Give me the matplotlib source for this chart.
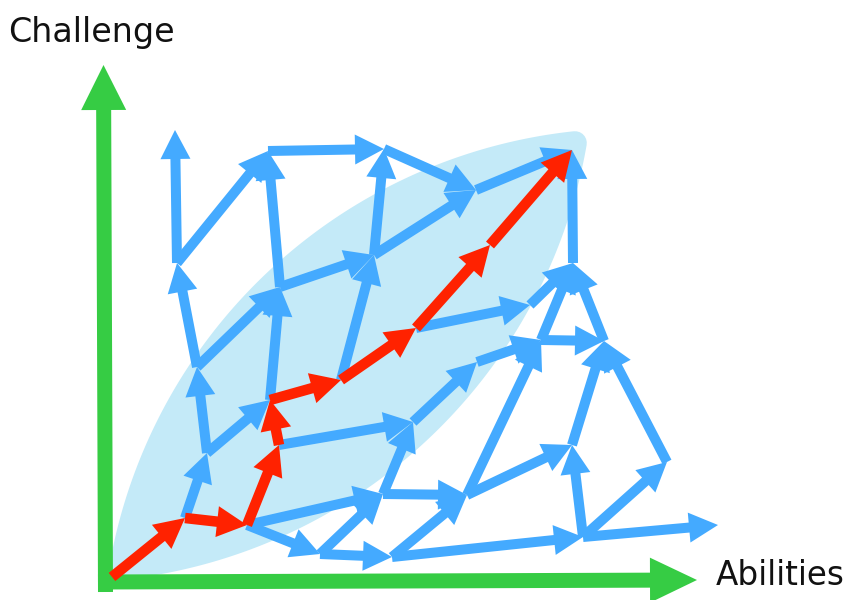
import matplotlib
matplotlib.use("Agg")
import numpy as np
import matplotlib.pyplot as plt
from matplotlib.patches import FancyArrowPatch, ArrowStyle, Polygon

# ---- data: node positions (image pixel space, y downward) ----
nodes = {
    "O": (112, 577), "R1": (185, 518), "R2": (247, 525), "R3": (279, 445),
    "R4": (270, 400), "R5": (341, 380), "R6": (416, 328), "R7": (490, 245),
    "R8": (572, 150),
    "A": (207, 453), "B": (197, 367), "C": (177, 263), "D": (175, 130),
    "E": (268, 151), "F": (280, 287), "G": (384, 149), "H": (374, 255),
    "I": (476, 190), "J": (413, 422), "K": (383, 494), "L": (320, 554),
    "M": (392, 557), "N": (467, 495), "P": (477, 362), "Q": (541, 340),
    "S": (530, 305), "T": (573, 263), "U": (604, 341), "V": (572, 445),
    "W": (583, 537), "X": (667, 462), "Y": (718, 525),
}

red_path = ["O", "R1", "R2", "R3", "R4", "R5", "R6", "R7", "R8"]

blue_edges = [
    ("C", "D"), ("C", "E"), ("F", "E"), ("E", "G"), ("G", "I"), ("H", "G"),
    ("F", "H"), ("H", "I"), ("R5", "H"), ("R4", "F"), ("B", "C"), ("B", "F"),
    ("A", "B"), ("R1", "A"), ("A", "R4"), ("R3", "J"), ("J", "P"), ("P", "Q"),
    ("N", "Q"), ("K", "J"), ("R2", "K"), ("R2", "L"), ("L", "K"), ("L", "M"),
    ("M", "N"), ("K", "N"), ("M", "W"), ("N", "V"), ("W", "V"), ("W", "X"),
    ("W", "Y"), ("X", "U"), ("V", "U"), ("Q", "U"), ("U", "T"), ("Q", "T"),
    ("R6", "S"), ("S", "T"), ("T", "R8"), ("I", "R8"),
]

axis_y = [(105.5, 592), (103.5, 65)]
axis_x = [(98, 582), (697, 580)]
x_label = "Abilities"
y_label = "Challenge"

# flow channel (lens between two ends, half width at middle)
channel_ends = [(121, 568), (575, 143)]
channel_half_width = 104

BLUE = "#44AAFF"
RED = "#FF2200"
GREEN = "#36CC44"
FLOW = "#C4EAF8"

fig = plt.figure(figsize=(8.46, 6), dpi=100)
ax = fig.add_axes([0, 0, 1, 1])
ax.set_xlim(0, 846)
ax.set_ylim(600, 0)
ax.axis("off")

# lens-shaped flow channel
p1 = np.array(channel_ends[0], float)
p2 = np.array(channel_ends[1], float)
mid = (p1 + p2) / 2
c = np.linalg.norm(p2 - p1) / 2
ex = (p2 - p1) / (2 * c)
ey = np.array([-ex[1], ex[0]])
h0 = channel_half_width
d = (c * c - h0 * h0) / (2 * h0)
R = h0 + d
u = np.linspace(-c, c, 200)
h = np.sqrt(np.maximum(R * R - u * u, 0)) - d
upper = mid + np.outer(u, ex) + np.outer(h, ey)
lower = mid + np.outer(u[::-1], ex) - np.outer(h[::-1], ey)
ax.add_patch(Polygon(np.vstack([upper, lower]), closed=True, facecolor=FLOW,
                     edgecolor=FLOW, lw=17, joinstyle="round", zorder=1))

px = 0.72  # pixels -> points at 100 dpi


def arrow(p, q, color, tw, hw, hl, z):
    st = ArrowStyle.Simple(head_length=hl * px, head_width=hw * px,
                           tail_width=tw * px)
    ax.add_patch(FancyArrowPatch(p, q, arrowstyle=st, mutation_scale=1,
                                 shrinkA=0, shrinkB=0, lw=0, color=color,
                                 zorder=z))


arrow(axis_y[0], axis_y[1], GREEN, 15, 45, 45, 2)
arrow(axis_x[0], axis_x[1], GREEN, 15, 45, 47, 2)

for a, b in blue_edges:
    arrow(nodes[a], nodes[b], BLUE, 10, 30, 29, 3)

for a, b in zip(red_path[:-1], red_path[1:]):
    arrow(nodes[a], nodes[b], RED, 10.5, 31, 30, 4)

ax.text(8, 42, y_label, fontsize=24, color="#111111", ha="left",
        va="baseline", family="DejaVu Sans")
ax.text(716, 585, x_label, fontsize=23.5, color="#111111", ha="left",
        va="baseline", family="DejaVu Sans")

fig.savefig("out.png", dpi=100)
